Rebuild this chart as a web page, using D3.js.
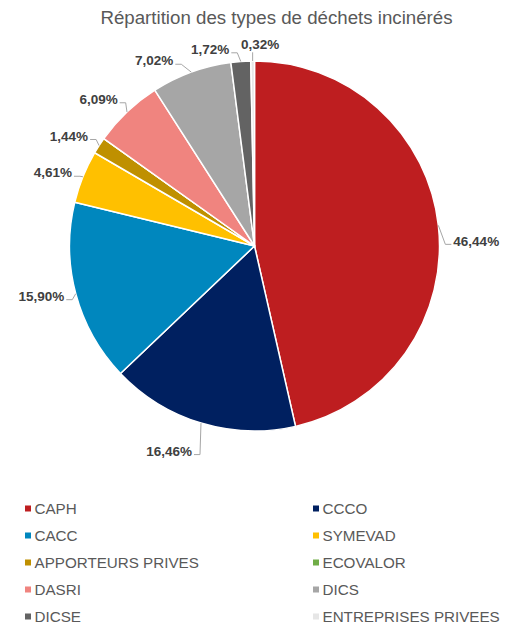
<!DOCTYPE html>
<html><head><meta charset="utf-8">
<script src="https://cdn.jsdelivr.net/npm/d3@7"></script>
<style>body{margin:0;background:#fff}svg{display:block}</style>
</head><body>
<script>
// ---- data ----
const categories = ["CAPH","CCCO","CACC","SYMEVAD","APPORTEURS PRIVES","ECOVALOR","DASRI","DICS","DICSE","ENTREPRISES PRIVEES"];
const values = [46.44, 16.46, 15.90, 4.61, 1.44, 0, 6.09, 7.02, 1.72, 0.32];
const colors = ["#BE1E20","#002060","#0087BE","#FFC000","#BF9000","#70AD47","#F0847F","#A6A6A6","#636363","#E6E6E6"];
const title = "Répartition des types de déchets incinérés";

// ---- layout ----
const W = 518, H = 628;
const cx = 254.5, cy = 246, R = 185;
// manual label nudges (Excel-dragged labels) relative to slice edge point: [dx, dy, anchor]
const labelNudge = [[15,15.5,"start"],[-9,28,"end"],[-11.5,2.5,"end"],[-11,-4,"end"],[-11,-9.6,"end"],[0,0,"end"],[-9.3,-12.7,"end"],[-18,-11.4,"end"],[-11.5,-12.2,"end"],[7.4,-16.7,"middle"]];

const svg = d3.select("body").append("svg").attr("width", W).attr("height", H);

svg.append("text").attr("x", 276.5).attr("y", 23.5).attr("text-anchor","middle")
  .attr("font-family","Liberation Sans, Arial, sans-serif").attr("font-size","18.7px")
  .attr("fill","#595959").text(title);

const pie = d3.pie().sort(null).value(d => d)(values);
const arc = d3.arc().innerRadius(0).outerRadius(R);
const g = svg.append("g").attr("transform", `translate(${cx},${cy})`);

g.selectAll("path.slice").data(pie).join("path").attr("class","slice")
  .attr("d", arc).attr("fill", (d,i) => colors[i])
  .attr("stroke","#fff").attr("stroke-width",1.5).attr("stroke-linejoin","round");

const fmt = v => v.toFixed(2).replace(".", ",") + "%";
const lbl = svg.append("g");
pie.forEach((d,i) => {
  if (d.value <= 0) return;
  const a = (d.startAngle + d.endAngle) / 2;
  const ex = cx + R * Math.sin(a), ey = cy - R * Math.cos(a);
  const [dx, dy, anchor] = labelNudge[i];
  const lx = ex + dx, ly = ey + dy;
  const t = lbl.append("text").attr("x", lx).attr("y", ly).attr("dy","0.35em")
    .attr("text-anchor", anchor)
    .attr("font-family","Liberation Sans, Arial, sans-serif").attr("font-size","13.5px")
    .attr("font-weight","bold").attr("fill","#404040").text(fmt(d.value));
  let pts;
  if (anchor === "middle") {
    pts = [[ex, ey], [ex, ly + 8]];
  } else {
    const s = anchor === "end" ? 1 : -1;
    const sy = ly + 3.5;
    pts = [[ex, ey], [lx + s * 8, sy], [lx + s * 2, sy]];
  }
  lbl.append("path").attr("d", d3.line()(pts)).attr("fill","none")
    .attr("stroke","#A6A6A6").attr("stroke-width",1);
});

// legend
const leg = svg.append("g");
const colX = [25, 313], rowY0 = 508.5, rowStep = 27;
categories.forEach((c,i) => {
  const x = colX[i % 2], y = rowY0 + Math.floor(i / 2) * rowStep;
  leg.append("rect").attr("x", x).attr("y", y - 3).attr("width", 6).attr("height", 6).attr("fill", colors[i]);
  leg.append("text").attr("x", x + 9.5).attr("y", y).attr("dy","0.36em")
    .attr("font-family","Liberation Sans, Arial, sans-serif").attr("font-size","15.2px")
    .attr("fill","#595959").text(c);
});
</script>
</body></html>
